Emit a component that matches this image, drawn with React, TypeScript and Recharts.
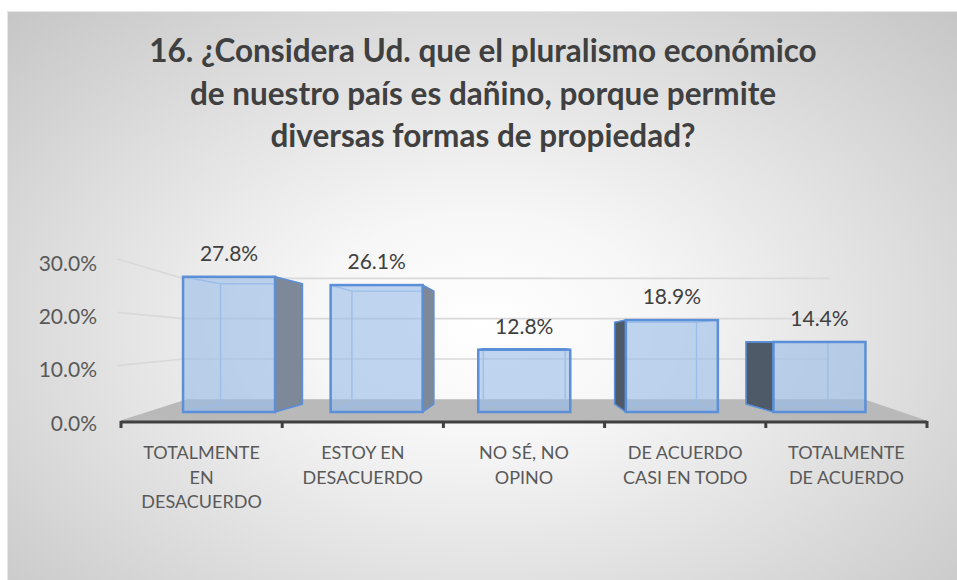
import { BarChart, Bar, XAxis, YAxis, CartesianGrid, LabelList } from 'recharts'

const titleLines = [
  '16. ¿Considera Ud. que el pluralismo económico',
  'de nuestro país es dañino, porque permite',
  'diversas formas de propiedad?',
]
const categories = [
  'TOTALMENTE EN DESACUERDO',
  'ESTOY EN DESACUERDO',
  'NO SÉ, NO OPINO',
  'DE ACUERDO CASI EN TODO',
  'TOTALMENTE DE ACUERDO',
]
const tickLines = [
  ['TOTALMENTE', 'EN', 'DESACUERDO'],
  ['ESTOY EN', 'DESACUERDO'],
  ['NO SÉ, NO', 'OPINO'],
  ['DE ACUERDO', 'CASI EN TODO'],
  ['TOTALMENTE', 'DE ACUERDO'],
]
const shares = [0.278, 0.261, 0.128, 0.189, 0.144]
const yTicks = [0, 0.1, 0.2, 0.3]

const data = categories.map((name, i) => ({ name, value: shares[i] }))

const W = 950
const H = 569
const MARGIN = { top: 251, right: 30, bottom: 0, left: 0 }
const Y_W = 114
const X_H = 158
const PLOT_W = W - MARGIN.right - Y_W
const PLOT_BOTTOM = H - X_H
const BAND = PLOT_W / categories.length
const FONT = 'Lato, "Open Sans", sans-serif'

// fake 3D: front face lifted a bit, back face shrunk toward a vanishing point
const LIFT = 10
const VPX = 517
const VPY = 329
const DEPTH = 0.89
const WALL_VPY = 318
const WALL_DEPTH = 0.756

const pct = (v: number) => (v * 100).toFixed(1) + '%'

function BoxBar(props: any) {
  const { x, y, width, height } = props
  if (width == null || height == null) return null
  const l = x
  const r = x + width
  const t = y - LIFT
  const b = y + height - LIFT
  const px = (v: number) => VPX + (v - VPX) * DEPTH
  const py = (v: number) => VPY + (v - VPY) * DEPTH
  const bl = px(l), br = px(r), bt = py(t), bb = py(b)
  const pts = (a: number[][]) => a.map((q) => q.join(',')).join(' ')
  const blue = '#5b8fd7'
  const inner = '#a3c1ea'
  return (
    <g>
      <polygon points={pts([[bl, bt], [br, bt], [br, bb], [bl, bb]])} fill="none" stroke={inner} strokeWidth={1.3} />
      <line x1={l} y1={b} x2={bl} y2={bb} stroke={inner} strokeWidth={1.3} />
      <line x1={r} y1={b} x2={br} y2={bb} stroke={inner} strokeWidth={1.3} />
      <line x1={l} y1={t} x2={bl} y2={bt} stroke={inner} strokeWidth={1.3} />
      <line x1={r} y1={t} x2={br} y2={bt} stroke={inner} strokeWidth={1.3} />
      {r < VPX && (
        <polygon points={pts([[r, t], [br, bt], [br, bb], [r, b]])} fill="#7d8899" stroke={blue} strokeWidth={1.5} />
      )}
      {l > VPX && (
        <polygon points={pts([[l, t], [bl, bt], [bl, bb], [l, b]])} fill="#4f5a68" stroke={blue} strokeWidth={1.5} />
      )}
      {t > VPY && (
        <polygon points={pts([[l, t], [r, t], [br, bt], [bl, bt]])} fill="#c5d8f0" stroke={blue} strokeWidth={1.5} />
      )}
      <rect x={l} y={t} width={width} height={b - t} fill="rgba(150,186,232,0.6)" stroke={blue} strokeWidth={2.5} />
    </g>
  )
}

function ValueLabel(props: any) {
  const vb = props.viewBox ?? props
  const { x, y, width } = vb
  return (
    <text x={x + width / 2} y={y - LIFT - 16} textAnchor="middle" fontFamily={FONT} fontSize={21} fill="#404040">
      {pct(Number(props.value))}
    </text>
  )
}

function PctTick(props: any) {
  const { y, payload } = props
  return (
    <text x={Y_W - 24} y={y} textAnchor="end" dominantBaseline="central" fontFamily={FONT} fontSize={21} fill="#595959">
      {pct(Number(payload.value))}
    </text>
  )
}

function CatTick(props: any) {
  const { x, y, index, payload } = props
  const lines = tickLines[index] ?? [String(payload?.value ?? '')]
  return (
    <g>
      <rect x={x - BAND / 2 - 1.5} y={y - 1} width={3} height={7} fill="#404040" />
      {index === categories.length - 1 && <rect x={x + BAND / 2 - 1.5} y={y - 1} width={3} height={7} fill="#404040" />}
      <text x={x} y={y + 30} textAnchor="middle" dominantBaseline="central" fontFamily={FONT} fontSize={18} fill="#595959">
        {lines.map((s, i) => (
          <tspan key={i} x={x} dy={i === 0 ? 0 : 24.5}>{s}</tspan>
        ))}
      </text>
    </g>
  )
}

function WallLine(props: any) {
  const { x1, x2, y1 } = props
  const back = WALL_VPY + (y1 - WALL_VPY) * WALL_DEPTH
  if (Math.abs(y1 - PLOT_BOTTOM) < 1) {
    const pts = [[x1 - 2, y1 - 1], [x1 + 66, back], [x2 - 63, back], [x2 + 1, y1 - 1]]
    return <polygon key={props.key} points={pts.map((q) => q.join(',')).join(' ')} fill="#b9b9b9" />
  }
  return (
    <polyline
      key={props.key}
      points={`${x1 - 4},${y1 - 3} ${x1 + 62},${back} ${x2 - 97},${back}`}
      fill="none"
      stroke="#d9d9d9"
      strokeWidth={1.6}
    />
  )
}

export default function App() {
  return (
    <div
      style={{
        position: 'absolute',
        left: 7,
        top: 11,
        width: W,
        height: H,
        background: 'radial-gradient(ellipse farthest-corner at 50% 55%, #ffffff 0%, #f7f7f7 25%, #c6c6c6 100%)',
        borderTop: '1px solid #e6e6e6',
        borderLeft: '1px solid #e6e6e6',
        boxSizing: 'border-box',
      }}
    >
      <div
        style={{
          position: 'absolute',
          top: 17,
          left: 0,
          width: W,
          textAlign: 'center',
          fontFamily: FONT,
          fontWeight: 700,
          fontSize: 31.5,
          lineHeight: '42.5px',
          color: '#404040',
        }}
      >
        {titleLines.map((s, i) => (
          <div key={i}>{s}</div>
        ))}
      </div>
      <BarChart width={W} height={H} data={data} margin={MARGIN} barCategoryGap="19%" style={{ position: 'absolute', left: -1, top: -1 }}>
        <CartesianGrid xAxisId="cat" yAxisId="front" vertical={false} horizontal={WallLine} />
        <XAxis
          xAxisId="cat"
          dataKey="name"
          height={X_H}
          interval={0}
          tickSize={0}
          tickMargin={0}
          tickLine={false}
          axisLine={{ stroke: '#404040', strokeWidth: 3 }}
          tick={CatTick}
        />
        <XAxis xAxisId="bars" dataKey="name" hide height={0} padding={{ left: 34, right: 34 }} />
        <YAxis
          yAxisId="front"
          width={Y_W}
          domain={[0, 0.3]}
          ticks={yTicks}
          allowDataOverflow
          tickSize={0}
          axisLine={false}
          tickLine={false}
          tick={PctTick}
        />
        <YAxis yAxisId="bars" hide width={0} domain={[0, 0.329]} allowDataOverflow />
        <Bar dataKey="value" xAxisId="bars" yAxisId="bars" shape={BoxBar} isAnimationActive={false}>
          <LabelList dataKey="value" content={ValueLabel} />
        </Bar>
      </BarChart>
    </div>
  )
}
